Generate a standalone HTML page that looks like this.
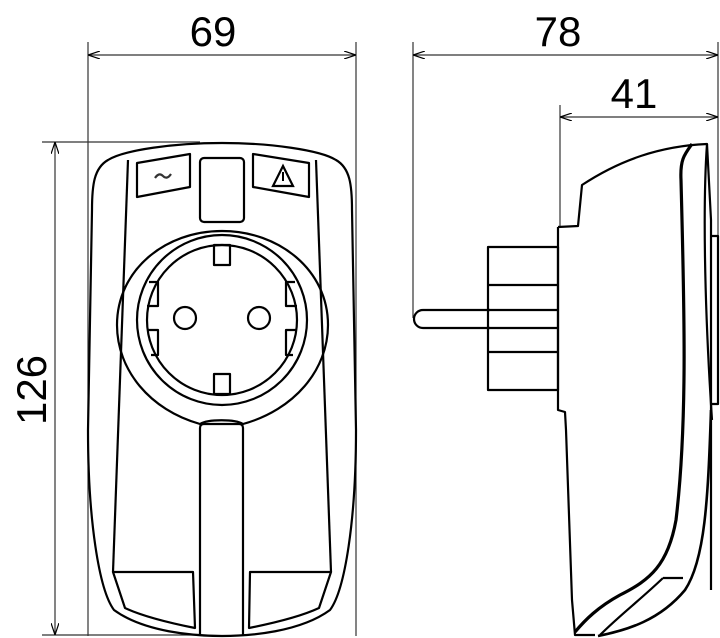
<!DOCTYPE html>
<html><head><meta charset="utf-8"><style>
html,body{margin:0;padding:0;background:#fff;}
svg{display:block;}
text{font-family:"Liberation Sans",sans-serif;font-size:42px;fill:#000;}
</style></head><body>
<svg width="720" height="638" viewBox="0 0 720 638" xmlns="http://www.w3.org/2000/svg">
<defs>
<marker id="a" viewBox="0 0 12 8" refX="12" refY="4" markerWidth="12" markerHeight="8" orient="auto-start-reverse" markerUnits="userSpaceOnUse">
<path d="M0,0 L12,4 L0,8" fill="none" stroke="#000" stroke-width="1.2"/></marker>
</defs>
<g stroke="#333" stroke-width="1.2" fill="none">
<line x1="88" y1="42" x2="88" y2="636"/>
<line x1="356" y1="42" x2="356" y2="636"/>
<line x1="88" y1="55" x2="356" y2="55" marker-start="url(#a)" marker-end="url(#a)"/>
<line x1="42" y1="142" x2="200" y2="142"/>
<line x1="42" y1="635" x2="200" y2="635"/>
<line x1="55" y1="142" x2="55" y2="635" marker-start="url(#a)" marker-end="url(#a)"/>
<line x1="413" y1="42" x2="413" y2="318"/>
<line x1="718" y1="42" x2="718" y2="236"/>
<line x1="413" y1="55" x2="718" y2="55" marker-start="url(#a)" marker-end="url(#a)"/>
<line x1="560" y1="105" x2="560" y2="228"/>
<line x1="560" y1="117" x2="718" y2="117" marker-start="url(#a)" marker-end="url(#a)"/>
</g>
<text x="213" y="46" text-anchor="middle">69</text>
<text x="558" y="46" text-anchor="middle">78</text>
<text x="634" y="108" text-anchor="middle">41</text>
<text transform="translate(46,390) rotate(-90)" text-anchor="middle">126</text>

<g stroke="#000" stroke-width="2.2" fill="none" stroke-linejoin="round">
<path d="M222,143 C270,143 320,150 336,160 C350,168 352,185 352,210 L356,430 C356,520 345,590 330,610 C300,632 250,636 222,636 C194,636 144,632 114,610 C99,590 88,520 88,430 L92,210 C92,185 94,168 108,160 C124,150 174,143 222,143 Z"/>
<path d="M128,160 L113,572"/>
<path d="M316,160 L331,572"/>
<path d="M137,163 L190,154 L190,187 L137,197 Z"/>
<path d="M253,154 L309,163 L309,197 L253,187 Z"/>
<rect x="200" y="158" width="44" height="64" rx="4"/>
<path d="M200,424 C150,410 117,370 117,325 C117,270 165,231 222,231 C279,231 328,270 328,325 C328,370 294,410 243,424 C235,419 208,419 200,424 Z"/>
<circle cx="222" cy="320" r="85"/>
<circle cx="222" cy="320" r="75"/>
<rect x="214" y="245" width="16" height="20"/>
<rect x="214" y="374" width="16" height="20"/>
<path d="M149,282 L158,282 L158,306 L147,306"/>
<path d="M147,330 L158,330 L158,355 L151,355"/>
<path d="M295,282 L286,282 L286,306 L297,306"/>
<path d="M297,330 L286,330 L286,355 L293,355"/>
<circle cx="185" cy="318" r="11"/>
<circle cx="259" cy="318" r="11"/>
<path d="M200,636 L200,428 Q200,424 204,424 L239,424 Q243,424 243,428 L243,636"/>
<path d="M113,572 L193,572 L195,628 C165,622 140,615 125,608 Z"/>
<path d="M331,572 L250,572 L249,628 C279,622 304,615 319,608 Z"/>
<path d="M490,310 L423,310 A9,9 0 0 0 423,328 L490,328"/>
<rect x="488" y="247" width="70" height="143"/>
<line x1="488" y1="285" x2="558" y2="285"/>
<line x1="488" y1="310" x2="558" y2="310"/>
<line x1="488" y1="328" x2="558" y2="328"/>
<line x1="488" y1="352" x2="558" y2="352"/>
<path d="M558,227 L578,226 L582,185 C620,160 660,146 707,144 L711,220 L711,590"/>
<path d="M558,227 L558,410 L565,412 L566,430 L572,600 L575,635 L595,635"/>
<path d="M707,144 C703,200 704,300 712,420"/>
<path d="M692,144 C684,155 680,160 681,180 C684,300 688,420 676,520 C668,565 650,580 620,595 C598,607 585,620 575,632" stroke-width="3.2"/>
<path d="M711,410 C708,500 705,560 685,590 C660,620 628,630 598,636" stroke-width="2.6"/>
<path d="M663,578 L683,578 M663,578 C640,600 620,615 600,635"/>
<path d="M711,236 L718,236 L718,404 L711,404"/>
</g>
<path d="M155,178 Q159,172 163,176 Q167,180 171,174" fill="none" stroke="#333" stroke-width="2.2"/>
<path d="M273,186 L283,166 L293,186 Z" fill="none" stroke="#000" stroke-width="2.2"/>
<line x1="283" y1="172" x2="283" y2="181" stroke="#000" stroke-width="2"/>
</svg>
</body></html>
